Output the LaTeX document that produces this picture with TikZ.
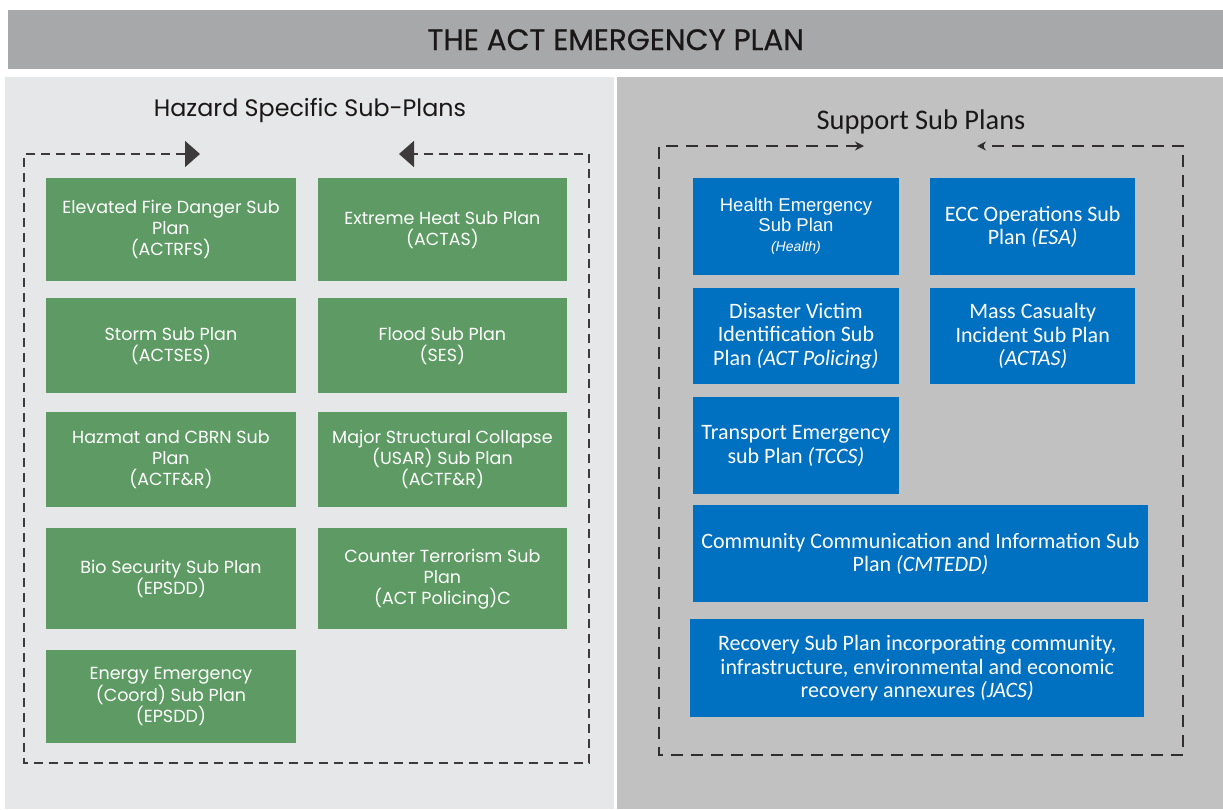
\documentclass[tikz,border=0pt]{standalone}
\usepackage{fontspec}
\setmainfont{Poppins}
\newfontfamily\carl{Carlito}
\newfontfamily\arialf{Liberation Sans}
\newfontfamily\titlefont[FakeBold=0.6]{Poppins}
\usetikzlibrary{arrows.meta}
\definecolor{titlegray}{HTML}{A7A8AA}
\definecolor{leftbg}{HTML}{E6E7E8}
\definecolor{rightbg}{HTML}{C1C1C1}
\definecolor{plangreen}{HTML}{5E9B64}
\definecolor{planblue}{HTML}{0070C0}
\definecolor{inkblack}{HTML}{1A1718}
\tikzset{
  box/.style={anchor=north west, inner sep=0pt, align=center, text=white},
  greenbox/.style={box, fill=plangreen, font=\fontsize{17.5}{21}\selectfont},
  bluebox/.style={box, fill=planblue, font=\carl\fontsize{22}{23.5}\selectfont},
  heading/.style={text=inkblack, inner sep=0pt},
  lframe/.style={draw=inkblack!85, line width=1.8pt, dash pattern=on 9pt off 6pt,
     {Triangle[length=15pt,width=26pt]}-{Triangle[length=15pt,width=26pt]}},
  rframe/.style={draw=inkblack!90, line width=1.8pt, dash pattern=on 12pt off 8pt,
     {Stealth[length=9pt,width=9pt]}-{Stealth[length=9pt,width=9pt]}},
}
\begin{document}
\begin{tikzpicture}[x=1pt,y=-1pt]
\useasboundingbox (0,0) rectangle (1223,809);
\fill[white] (0,0) rectangle (1223,809);
% title bar
\node[box, fill=titlegray, minimum width=1215, minimum height=59, text=inkblack,
      font=\titlefont\fontsize{29.5}{32}\selectfont] (title) at (8,10) {THE ACT EMERGENCY PLAN};
% panels
\fill[leftbg] (5,77) rectangle (614,809);
\fill[rightbg] (617,77) rectangle (1223,809);
% headings
\node[heading, font=\fontsize{23.8}{28}\selectfont] (hzh) at (310,110) {Hazard Specific Sub-Plans};
\node[heading, font=\carl\fontsize{28.4}{32}\selectfont] (sph) at (921,122) {Support Sub Plans};
% green boxes
\node[greenbox, minimum width=250.5, minimum height=103] (g1) at (45.5,178) {Elevated Fire Danger Sub\\Plan\\(ACTRFS)};
\node[greenbox, minimum width=249.5, minimum height=103] (g2) at (317.5,178) {Extreme Heat Sub Plan\\(ACTAS)};
\node[greenbox, minimum width=250.5, minimum height=95] (g3) at (45.5,298) {Storm Sub Plan\\(ACTSES)};
\node[greenbox, minimum width=249.5, minimum height=95] (g4) at (317.5,298) {Flood Sub Plan\\(SES)};
\node[greenbox, minimum width=250.5, minimum height=95] (g5) at (45.5,412) {Hazmat and CBRN Sub\\Plan\\(ACTF\&R)};
\node[greenbox, minimum width=249.5, minimum height=95] (g6) at (317.5,412) {Major Structural Collapse\\(USAR) Sub Plan\\(ACTF\&R)};
\node[greenbox, minimum width=250.5, minimum height=101] (g7) at (45.5,528) {Bio Security Sub Plan\\(EPSDD)};
\node[greenbox, minimum width=249.5, minimum height=101] (g8) at (317.5,528) {Counter Terrorism Sub\\Plan\\(ACT Policing)C};
\node[greenbox, minimum width=250.5, minimum height=93] (g9) at (45.5,650) {Energy Emergency\\(Coord) Sub Plan\\(EPSDD)};
% blue boxes
\node[bluebox, minimum width=205.5, minimum height=97, font=\arialf\fontsize{18.5}{20}\selectfont] (b1) at (693,178)
  {Health Emergency\\Sub Plan\\{\fontsize{14}{16}\selectfont\itshape (Health)}};
\node[bluebox, minimum width=205, minimum height=97] (b2) at (930,178) {ECC Operations Sub\\Plan \textit{(ESA)}};
\node[bluebox, minimum width=205.5, minimum height=96] (b3) at (693,288) {Disaster Victim\\Identification Sub\\Plan \textit{(ACT Policing)}};
\node[bluebox, minimum width=205, minimum height=96] (b4) at (930,288) {Mass Casualty\\Incident Sub Plan\\\textit{(ACTAS)}};
\node[bluebox, minimum width=205.5, minimum height=97] (b5) at (693,397) {Transport Emergency\\sub Plan \textit{(TCCS)}};
\node[bluebox, minimum width=454.5, minimum height=97] (b6) at (693,505) {Community Communication and Information Sub\\Plan \textit{(CMTEDD)}};
\node[bluebox, minimum width=454, minimum height=98] (b7) at (690,619) {Recovery Sub Plan incorporating community,\\infrastructure, environmental and economic\\recovery annexures \textit{(JACS)}};
% left dashed frame
\coordinate (la) at (200,154);
\coordinate (l1) at (24,154);
\coordinate (l2) at (24,763);
\coordinate (l3) at (589,763);
\coordinate (l4) at (589,154);
\coordinate (lb) at (399,154);
\draw[lframe] (la) -- (l1) -- (l2) -- (l3) -- (l4) -- (lb);
% right dashed frame
\coordinate (ra) at (864,146);
\coordinate (r1) at (659,146);
\coordinate (r2) at (659,755);
\coordinate (r3) at (1183,755);
\coordinate (r4) at (1183,146);
\coordinate (rb) at (977,146);
\draw[rframe] (ra) -- (r1) -- (r2) -- (r3) -- (r4) -- (rb);
\end{tikzpicture}
\end{document}
